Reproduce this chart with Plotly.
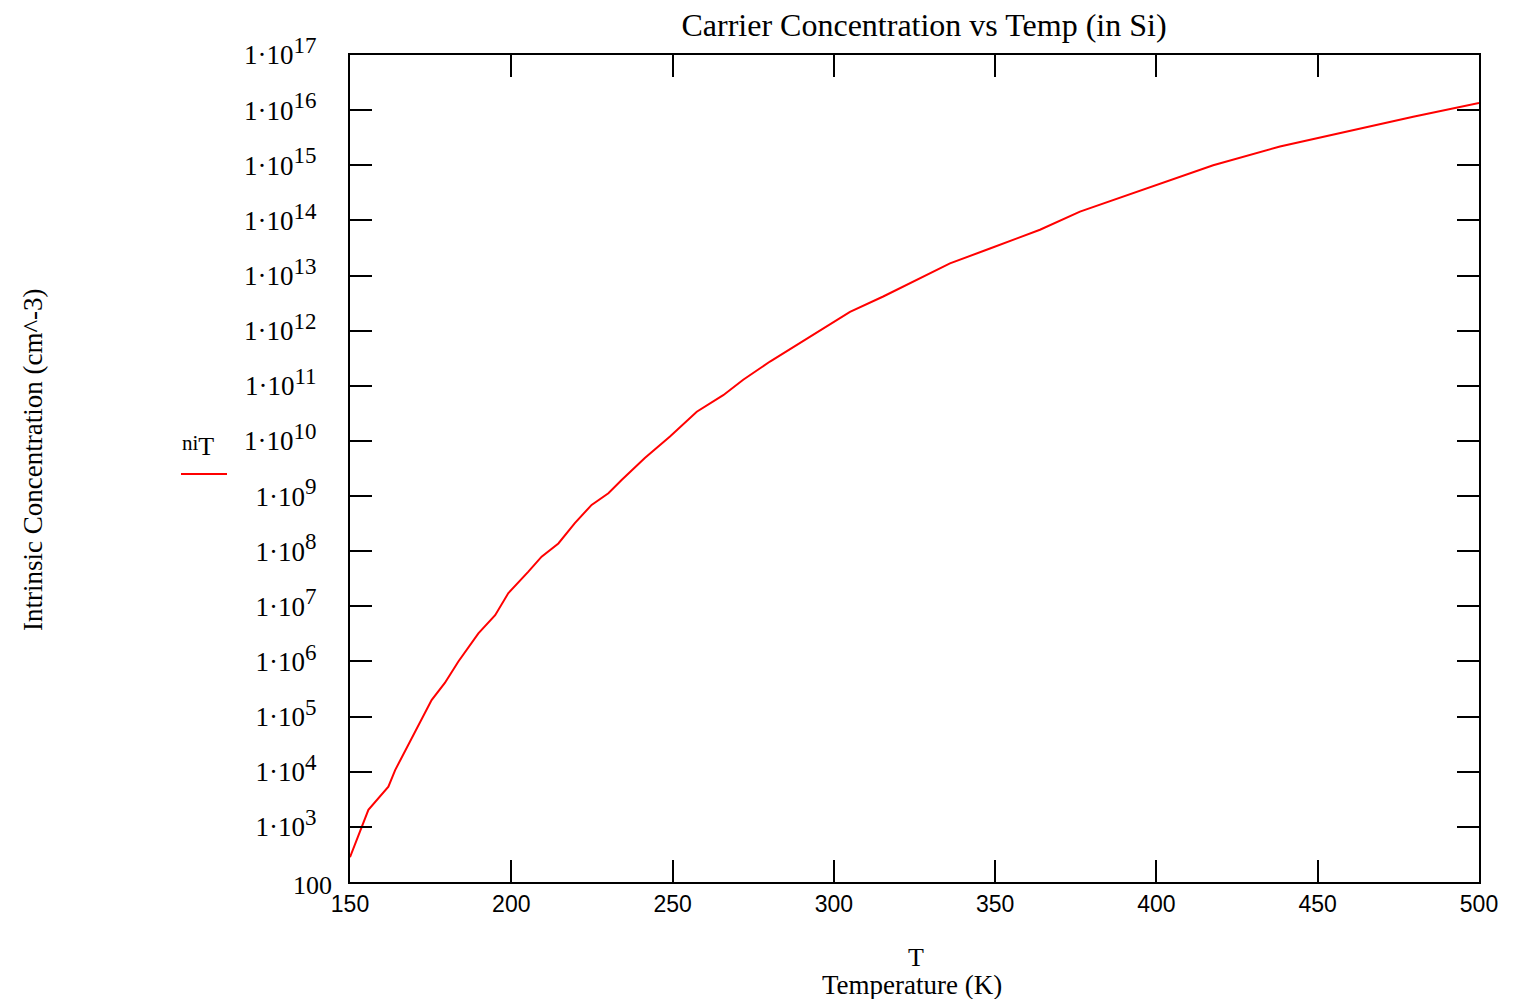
import plotly.graph_objects as go

# temperature (K) and intrinsic concentration (log10 of cm^-3)
temp_k = [150, 155.7, 161.9, 164, 175.3, 179.4, 183.6, 189.8, 195, 199.1, 205.3, 209.4,
          214.6, 219.7, 224.9, 230.1, 234.2, 241.4, 249.2, 257.5, 265.7, 271.9, 280.2,
          288.5, 296.7, 305, 315.3, 325.7, 336, 348.4, 363.9, 376.3, 397, 417.6, 438.3,
          458.9, 479.6, 500]
log_ni = [2.45, 3.31, 3.73, 4.03, 5.30, 5.61, 6.00, 6.51, 6.84, 7.24, 7.63, 7.90,
          8.14, 8.51, 8.84, 9.05, 9.29, 9.69, 10.08, 10.53, 10.83, 11.11, 11.44,
          11.74, 12.04, 12.34, 12.62, 12.92, 13.22, 13.49, 13.83, 14.16, 14.58, 15.00, 15.34,
          15.61, 15.88, 16.13]
ni = [10 ** v for v in log_ni]

x_ticks = [150, 200, 250, 300, 350, 400, 450, 500]
y_exps = list(range(2, 18))
y_ticks = [10 ** e for e in y_exps]
y_labels = [""] + ["1·10<sup><span style='font-size:23px'>%d</span></sup>" % e
                   for e in y_exps[1:]]

FONT = "Liberation Serif, Times New Roman, serif"
SANS = "Liberation Sans, Arial, sans-serif"

# page has an 8px body margin: figure is 16px narrower than the window,
# plot area spans page x 350..1479, y 55..882
W, H = 1500, 991
L, T, PW, PH = 342, 47, 1129, 827


def px(x):  # page x -> paper x
    return (x - 350) / PW


def py(y):  # page y -> paper y
    return (882 - y) / PH


fig = go.Figure()
fig.add_trace(go.Scatter(x=temp_k, y=ni, mode="lines",
                         line=dict(color="#ff0000", width=2), showlegend=False))

fig.update_layout(
    width=W, height=H,
    margin=dict(l=L, r=W - L - PW, t=T, b=H - T - PH),
    paper_bgcolor="white", plot_bgcolor="white",
    font=dict(family=FONT, color="black", size=24),
    title=dict(text="Carrier Concentration vs Temp (in Si)", xref="paper",
               x=px(924), xanchor="center",
               yref="container", y=1 - 17 / H, yanchor="middle", font=dict(size=32)),
)

fig.update_xaxes(
    range=[150, 500], tickvals=x_ticks, ticks="inside", ticklen=22, tickwidth=2,
    tickcolor="black", showline=True, linewidth=2, linecolor="black", mirror="ticks",
    showgrid=False, zeroline=False, tickfont=dict(family=SANS, size=23),
    automargin=False,
)
fig.update_yaxes(
    type="log", range=[2, 17], tickvals=y_ticks, ticktext=y_labels, ticks="inside",
    ticklen=22, tickwidth=2, tickcolor="black", showline=True, linewidth=2,
    linecolor="black", mirror="ticks", showgrid=False, zeroline=False,
    tickfont=dict(size=27), ticklabelstandoff=26, automargin=False,
)

# x-axis title (two lines, Mathcad style)
fig.add_annotation(text="T", xref="paper", yref="paper", x=px(916), y=py(957),
                   xanchor="center", yanchor="middle", showarrow=False,
                   font=dict(size=26))
fig.add_annotation(text="Temperature (K)", xref="paper", yref="paper", x=px(912),
                   y=py(985), xanchor="center", yanchor="middle", showarrow=False,
                   font=dict(size=27))
# y-axis title
fig.add_annotation(text="Intrinsic Concentration (cm^-3)", textangle=-90,
                   xref="paper", yref="paper", x=px(33), y=py(460),
                   xanchor="center", yanchor="middle", showarrow=False,
                   font=dict(size=27))
# bottom tick label sits closer to the axis
fig.add_annotation(text="100", xref="paper", yref="paper", x=px(334), y=py(885),
                   xanchor="right", yanchor="middle", showarrow=False,
                   font=dict(size=26))
# trace name next to the axis
fig.add_annotation(text="<span style='font-size:21px'>ni</span><sub>"
                        "<span style='font-size:26px'>T</span></sub>",
                   xref="paper", yref="paper", x=px(198), y=py(446),
                   xanchor="center", yanchor="middle", showarrow=False)
fig.add_shape(type="line", xref="paper", yref="paper",
              x0=px(181), x1=px(227), y0=py(474), y1=py(474),
              line=dict(color="#ff0000", width=2))

fig.write_html("out.html")
